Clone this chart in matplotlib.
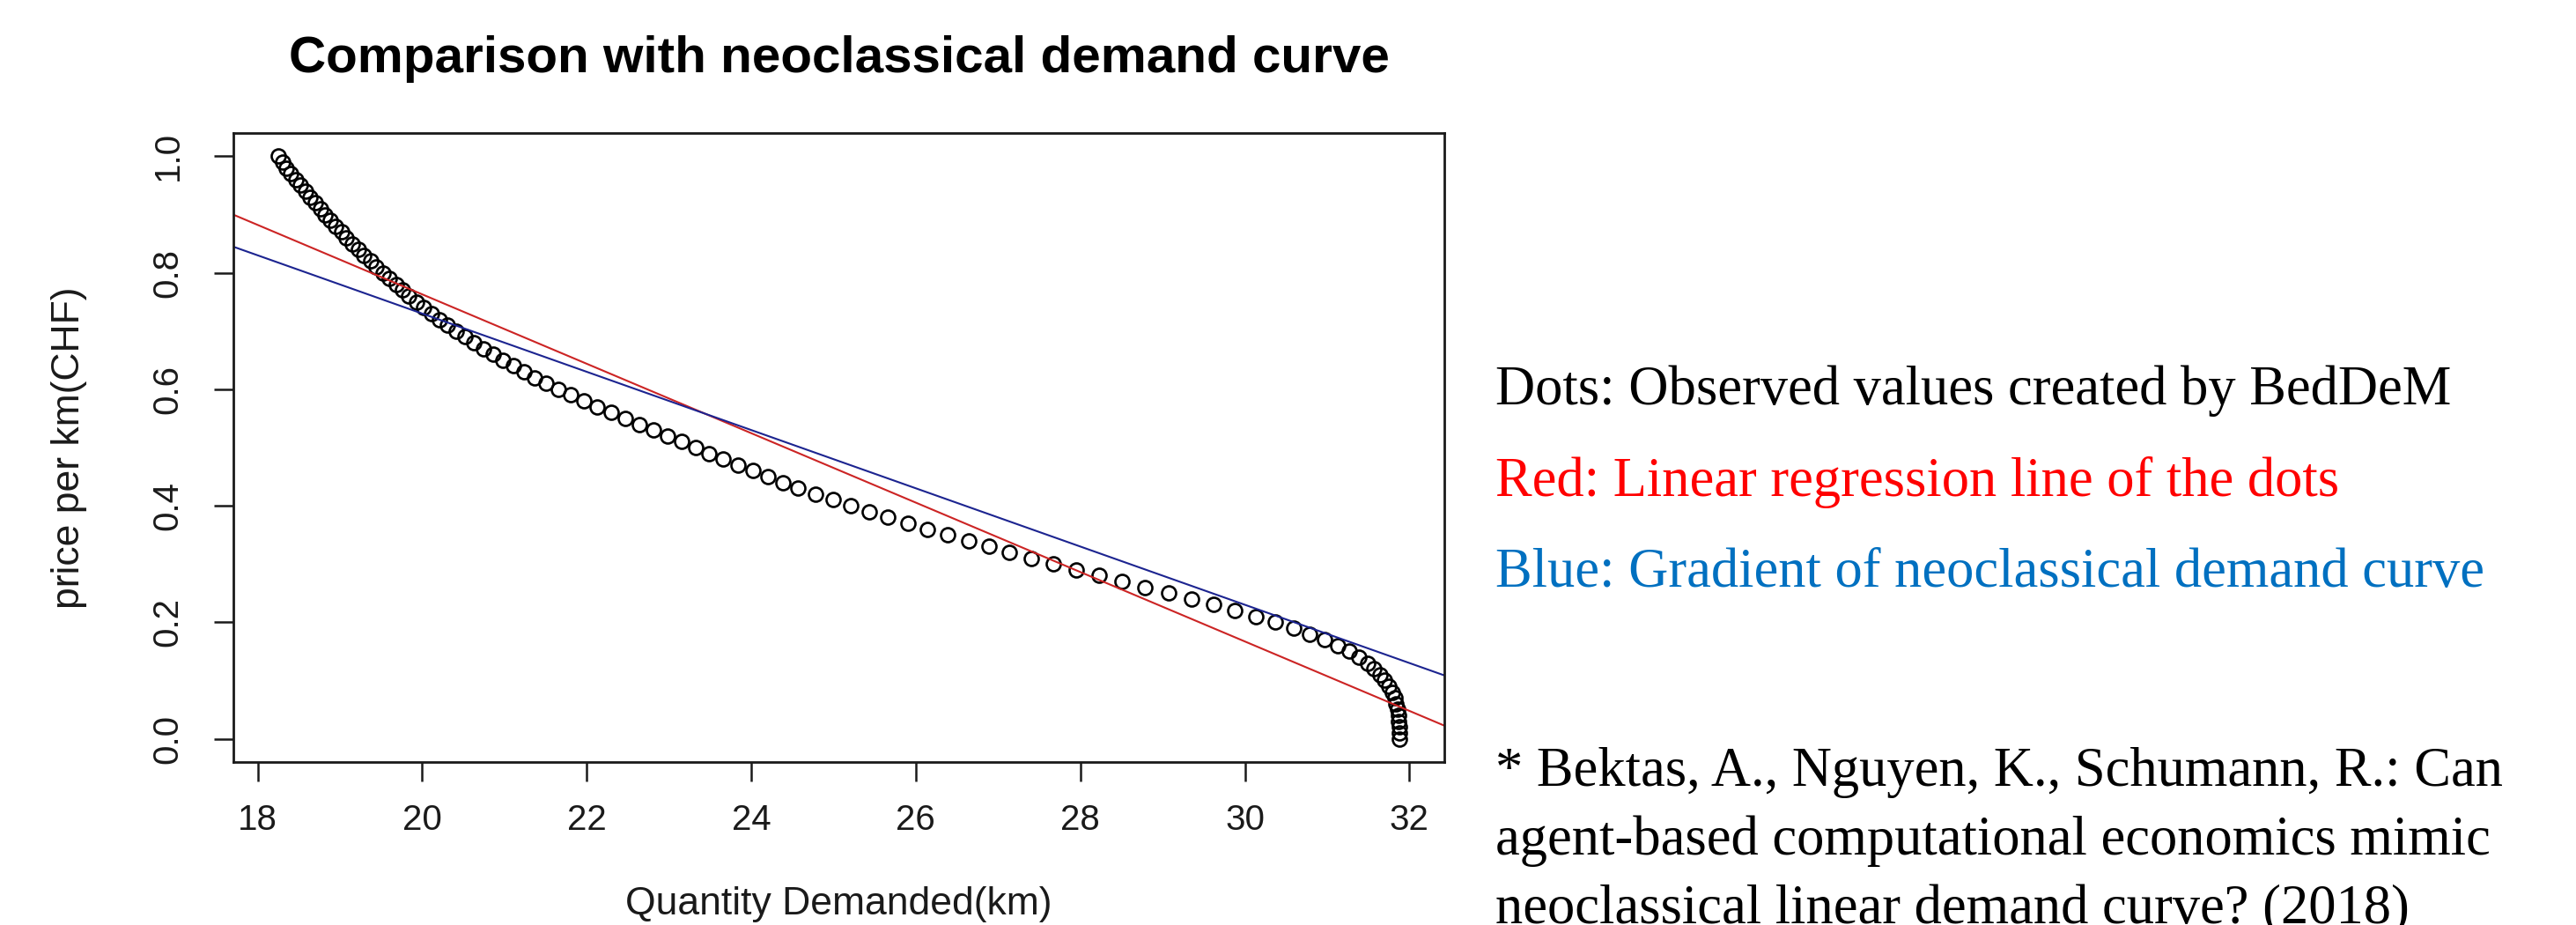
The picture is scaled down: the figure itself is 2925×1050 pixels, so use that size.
import numpy as np
import matplotlib

matplotlib.use("Agg")
import matplotlib.pyplot as plt

price = np.round(np.arange(100, -1, -1) / 100, 2)
quantity = [
    18.25, 18.30, 18.35, 18.40, 18.46, 18.52, 18.58, 18.64, 18.70, 18.76,
    18.82, 18.88, 18.95, 19.02, 19.08, 19.15, 19.22, 19.29, 19.37, 19.44,
    19.52, 19.60, 19.68, 19.76, 19.84, 19.93, 20.02, 20.11, 20.21, 20.31,
    20.41, 20.52, 20.63, 20.74, 20.86, 20.98, 21.11, 21.24, 21.37, 21.51,
    21.66, 21.81, 21.97, 22.13, 22.30, 22.47, 22.64, 22.81, 22.98, 23.15,
    23.32, 23.49, 23.66, 23.84, 24.02, 24.20, 24.38, 24.57, 24.78, 24.99,
    25.21, 25.43, 25.66, 25.90, 26.14, 26.39, 26.64, 26.89, 27.14, 27.40,
    27.67, 27.95, 28.23, 28.51, 28.79, 29.07, 29.35, 29.62, 29.88, 30.13,
    30.37, 30.59, 30.79, 30.97, 31.13, 31.27, 31.39, 31.49, 31.57, 31.64,
    31.70, 31.75, 31.79, 31.82, 31.84, 31.855, 31.865, 31.872, 31.877, 31.88,
    31.88,
]

# lines (intercept, slope)
red_line = (1.955, -0.0596)
blue_line = (1.730, -0.0500)

x_ticks = [18, 20, 22, 24, 26, 28, 30, 32]
y_ticks = [0.0, 0.2, 0.4, 0.6, 0.8, 1.0]

notes = [
    ("Dots: Observed values created by BedDeM", "black"),
    ("Red: Linear regression line of the dots", "#ff0000"),
    ("Blue: Gradient of neoclassical demand curve", "#0070c0"),
]
reference = [
    "* Bektas, A., Nguyen, K., Schumann, R.: Can",
    "agent-based computational economics mimic",
    "neoclassical linear demand curve? (2018)",
]

plt.rcParams["font.family"] = ["Liberation Sans", "DejaVu Sans"]

fig = plt.figure(figsize=(29.25, 10.5), dpi=100)
ax = fig.add_axes([0.0906, 0.1762, 0.4701, 0.6800])

ax.plot(quantity, price, linestyle="none", marker="o", markersize=11.5,
        markerfacecolor="none", markeredgecolor="black", markeredgewidth=1.9)

ax.axline((0, red_line[0]), slope=red_line[1], color="#cc2424", lw=1.5)
ax.axline((0, blue_line[0]), slope=blue_line[1], color="#1c2490", lw=1.5)

q_min, q_max = min(quantity), max(quantity)
pad = 0.04 * (q_max - q_min)
ax.set_xlim(q_min - pad, q_max + pad)
ax.set_ylim(-0.04, 1.04)

ax.set_xticks(x_ticks)
ax.set_xticklabels([str(t) for t in x_ticks])
ax.set_yticks(y_ticks)
ax.set_yticklabels([f"{t:.1f}" for t in y_ticks], rotation=90, va="center")
ax.tick_params(direction="out", length=16, width=1.8, labelsize=29,
               pad=18, colors="#1a1a1a")
ax.tick_params(axis="y", pad=24)

for s in ax.spines.values():
    s.set_linewidth(2.0)
    s.set_color("#1a1a1a")

ax.set_xlabel("Quantity Demanded(km)", fontsize=32, labelpad=40, color="#1a1a1a")
ax.set_ylabel("price per km(CHF)", fontsize=32, labelpad=52, color="#1a1a1a")
ax.set_title("Comparison with neoclassical demand curve", fontsize=42,
             fontweight="bold", pad=50)

for i, (txt, col) in enumerate(notes):
    fig.text(0.5805, 0.577 - i * 0.0985, txt, color=col, fontsize=45,
             family="Liberation Serif", va="center")

for i, txt in enumerate(reference):
    fig.text(0.5805, 0.165 - i * 0.0745, txt, color="black", fontsize=45,
             family="Liberation Serif", va="center")

fig.savefig("out.png", dpi=100)
